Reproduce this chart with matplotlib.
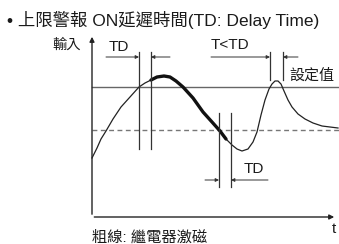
import matplotlib
matplotlib.use("Agg")
import matplotlib.pyplot as plt

plt.rcParams['font.family'] = ['Liberation Sans', 'Noto Sans CJK TC', 'DejaVu Sans']

# curve (pixel-like units, y grows downward)
curveX = [92, 97, 101, 106, 113, 121, 130, 139, 145, 151, 157, 164, 170, 176, 183, 193, 203, 212, 220,
          226, 232, 237, 242, 248, 253, 257, 261, 265, 269, 272, 275, 278, 281, 284, 288, 292, 298, 305, 313, 322, 330, 338]
curveY = [158, 148, 139, 131, 119, 107, 97, 87, 83, 80, 77, 76, 77, 81, 87, 98, 112, 122, 131,
          139, 145, 149, 151, 149, 142, 132, 115, 100, 89, 84, 81, 81, 84, 91, 100, 107, 114, 119, 123, 126, 127, 128]
thickStart = 151
thickEnd = 231
setpointY = 87
lowerY = 130

fig = plt.figure(figsize=(3.39, 2.44), dpi=100)
ax = fig.add_axes([0, 0, 1, 1])
ax.set_xlim(0, 339)
ax.set_ylim(244, 0)
ax.axis('off')

# axes with arrows
ax.annotate('', xy=(92, 34), xytext=(92, 217),
            arrowprops=dict(arrowstyle='-|>', lw=1.0, color='#222222', mutation_scale=7))
ax.annotate('', xy=(337, 217), xytext=(91.5, 217),
            arrowprops=dict(arrowstyle='-|>', lw=1.0, color='#222222', mutation_scale=7))

# setpoint and lower reference
ax.plot([92, 339], [setpointY, setpointY], color='#666666', lw=1.0)
ax.plot([92, 339], [lowerY, lowerY], color='#777777', lw=1.0, ls=(0, (3.5, 2.5)))

# curve: thin all, thick where relay on
ax.plot(curveX, curveY, color='#222222', lw=0.9)
tx = [x for x in curveX if thickStart <= x <= thickEnd]
ty = [y for x, y in zip(curveX, curveY) if thickStart <= x <= thickEnd]
ax.plot(tx, ty, color='#111111', lw=2.4, solid_capstyle='round')

def vline(x, y0, y1):
    ax.plot([x, x], [y0, y1], color='#333333', lw=0.9)

def dim(y, xl, x0, x1, xr):
    ax.annotate('', xy=(x0, y), xytext=(xl, y),
                arrowprops=dict(arrowstyle='-|>', lw=0.7, color='#333333', mutation_scale=5, shrinkA=0, shrinkB=0))
    ax.annotate('', xy=(x1, y), xytext=(xr, y),
                arrowprops=dict(arrowstyle='-|>', lw=0.7, color='#333333', mutation_scale=5, shrinkA=0, shrinkB=0))

# upper TD
vline(139, 52, 149)
vline(151, 52, 149)
dim(57, 106, 139, 151, 170)
# T<TD
vline(270, 52, 80)
vline(283, 52, 80)
dim(57, 211, 270, 283, 298)
# lower TD
vline(219, 113, 187)
vline(231, 113, 187)
dim(180, 205, 219, 231, 268)

txt = dict(va='center', ha='left', color='#1a1a1a')
ax.text(7, 20, '• 上限警報 ON延遲時間(TD: Delay Time)', fontsize=12.5, **txt)
ax.text(52, 45, '輸入', fontsize=10.3, fontweight='medium', **txt)
ax.text(109, 47, 'TD', fontsize=11, **txt)
ax.text(211, 45, 'T<TD', fontsize=11, **txt)
ax.text(289, 76, '設定值', fontsize=10.8, fontweight='medium', **txt)
ax.text(244, 169, 'TD', fontsize=11, **txt)
ax.text(332, 229, 't', fontsize=11, **txt)
ax.text(92, 237, '粗線: 繼電器激磁', fontsize=11, fontweight='medium', **txt)

fig.savefig('out.png', dpi=100)
